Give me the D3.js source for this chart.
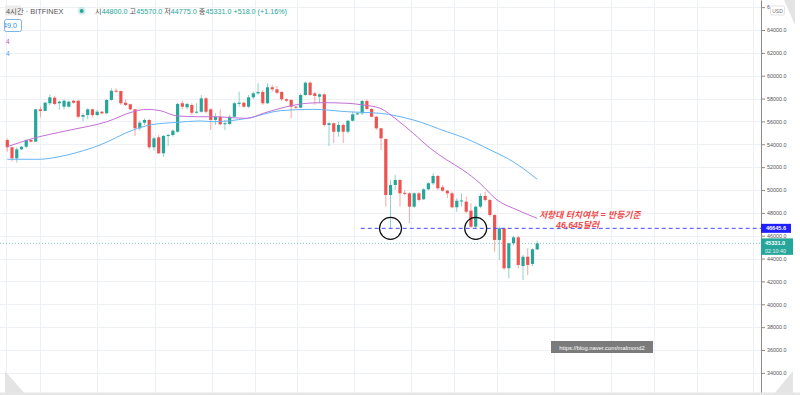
<!DOCTYPE html>
<html>
<head>
<meta charset="utf-8">
<script src="https://cdn.jsdelivr.net/npm/d3@7"></script>
<style>
body{margin:0;background:#fff;}
svg{display:block;font-family:"Liberation Sans","Noto Sans CJK KR",Arial,sans-serif;}
</style>
</head>
<body>
<div id="container"></div>
<script>
// 4h BTC candles (BITFINEX), oldest first
const opens = [54375,53740,52770,53560,53790,54380,54230,57060,56920,57590,58080,57590,57290,57290,57810,57810,56410,56560,57060,56560,
56850,56710,57880,58690,58660,57640,57500,57060,55400,55890,56130,53740,54610,53210,54730,54810,55100,57590,57240,57440,
56760,56850,58020,57060,56130,56410,55750,55780,56410,57530,57640,57290,58110,58460,58580,57590,58990,58810,58580,57940,
57880,57290,57200,58310,59390,58460,58160,58370,55690,55840,55100,55690,55100,56060,56620,56710,57790,57090,56410,55400,
54460,49560,50440,50880,49750,49710,48540,49710,49190,50060,50590,51230,50240,49940,49710,48490,49030,48980,48190,46790,
48540,49480,49130,47810,45630,46650,43150,45340,45860,43350,44160,43530,44800]
const highs = [54520,53800,53740,53850,54440,54400,57100,57290,57730,58370,58230,57810,57940,57810,57880,57880,56710,57150,57100,57000,
56900,57950,58900,58900,58700,57940,57550,57100,56060,56270,56200,54670,54810,54810,54960,55310,57640,57810,57640,57590,
57590,58310,58160,57150,56710,57060,56130,56560,57730,58600,57700,58310,58600,59340,58750,59340,59190,59100,58650,58000,
57950,57350,58460,59480,59480,58600,58460,58460,55920,55900,55980,55840,56130,56850,56800,57880,57940,57150,56480,55450,
54520,50880,51310,50950,50000,49800,49800,49800,50150,50700,51460,51300,50440,50000,49850,49300,49710,49420,48830,48650,
49710,49850,49200,47900,46790,46700,45400,45980,45980,44310,44900,44900,45570]
const lows = [53350,52480,52390,53500,53650,54150,54200,56360,56900,57440,57440,57000,57060,57200,57560,56270,55980,56190,56360,56480,
56600,56650,57810,58500,57440,57350,56990,54730,55190,55690,53560,53440,53150,52910,53850,54670,55010,57060,57060,56560,
56710,56760,56710,55250,55690,55690,55250,55690,56360,57290,57200,57150,57940,58310,57440,57530,58600,58400,57810,57700,
56270,57100,57150,58230,58230,57440,57590,55540,53850,54110,54670,54110,54960,55980,56560,56560,57000,56360,55250,53500,
48540,46650,50000,48540,49560,47090,48420,49000,49130,49980,50440,49980,49850,49300,48400,48100,48540,47960,46650,46620,
48400,48980,47660,44600,43880,43000,42270,45160,43150,42130,42560,43350,44775]
const closes = [53740,52770,53560,53790,54380,54230,57060,56920,57640,58110,57530,57730,57810,57730,57640,56410,56560,57060,56560,56850,
56710,57880,58690,58600,57590,57440,57060,55400,55890,56130,53740,54520,53210,54730,54810,55190,57530,57290,57530,56760,
56850,58020,56850,56130,56410,55750,55840,56410,57590,57640,57290,58110,58460,58580,57590,58990,58810,58510,57940,57810,
57290,57200,58310,59390,58310,58230,58370,55690,55840,55100,55690,55100,56060,56620,56710,57790,57090,56410,55400,54520,
49560,50440,50880,49710,49710,48540,49710,49130,50060,50590,51230,50150,49940,49710,48490,49060,49080,48100,46790,48540,
49480,49130,47810,45630,46650,43150,45340,45860,43440,44160,43440,44813,45331]

// moving averages: [candle index, price]
const maFast = [[0,53790],[5.5,54520],[12.6,55190],[21.1,55980],[26.6,56850],[29.5,57060],[32.3,56940],[35.9,56480],[40.7,56410],
[43.5,56410],[50.7,56270],[54.1,56710],[59.1,57290],[63.4,57590],[66.7,57640],[71.8,57590],[75.2,57440],[78.8,57150],[82.4,56130],
[85.8,54960],[89.4,53650],[92.9,52630],[96.3,51750],[99.9,50590],[103.5,49130],[107.8,48250],[112,47520]]
const maSlow = [[0,52690],[6.9,52690],[9,52770],[12.6,53060],[19.6,53940],[26.6,55250],[30.2,55690],[35.9,55920],[40.7,56040],
[43.5,55980],[50.7,56270],[57.7,56940],[64.6,57060],[71.8,56850],[78.8,56710],[85.8,56130],[92.9,55100],[96.3,54610],[102.1,53500],
[107,52450],[112,50940]]

const priceTicks = d3.range(34000, 66001, 2000)
const timeGrid = [-0.3,6.9,19,31.2,43.3,52.4,61.2,73.3,85.4,94.4,103.5,115.6,127.6,136.7,145.8,157.6]

const resistance = 46645.6
const touchIdx = [81, 99]
const noteLines = ["저항대 터치여부 = 반등기준", "46,645달러"]
const legendLabels = ["시","고","저","종"]
const countdown = "02:10:40"
const watermark = "https://blog.naver.com/malmond2"

const width = 800
const height = 395
const axisX = 761
const up = "#26a69a"
const down = "#ef5350"

const x = d3.scaleLinear().domain([-1.54, 159.3]).range([0, axisX])
const y = d3.scaleLinear().domain([32062.5, 66625]).range([height, 0])

const svg = d3.select("#container").append("svg")
              .attr("width",width)
              .attr("height",height)

/* grid */
svg.append("g")
   .selectAll("line")
   .data(priceTicks)
   .enter()
   .append("line")
   .attr("x1",0).attr("x2",axisX)
   .attr("y1",d=>Math.round(y(d))+0.5).attr("y2",d=>Math.round(y(d))+0.5)
   .attr("stroke","#edf1f5")

svg.append("g")
   .selectAll("line")
   .data(timeGrid)
   .enter()
   .append("line")
   .attr("x1",d=>Math.round(x(d))+0.5).attr("x2",d=>Math.round(x(d))+0.5)
   .attr("y1",0).attr("y2",height)
   .attr("stroke","#edf1f5")

/* current price line */
const last = closes.length-1
svg.append("line")
   .attr("x1",0).attr("x2",axisX)
   .attr("y1",y(closes[last])).attr("y2",y(closes[last]))
   .attr("stroke",up).attr("stroke-opacity",0.55)
   .attr("stroke-dasharray","1,2")

/* candles */
const candles = opens.map((o,i)=>({i:i,o:o,h:highs[i],l:lows[i],c:closes[i]}))
const bodyW = 3.2

const cg = svg.append("g")
cg.selectAll("line")
  .data(candles)
  .enter()
  .append("line")
  .attr("x1",d=>x(d.i)).attr("x2",d=>x(d.i))
  .attr("y1",d=>y(d.h)).attr("y2",d=>y(d.l))
  .attr("stroke",d=>d.c>=d.o?up:down)
  .attr("stroke-opacity",0.5)
  .attr("stroke-width",1)

cg.selectAll("rect")
  .data(candles)
  .enter()
  .append("rect")
  .attr("x",d=>x(d.i)-bodyW/2)
  .attr("width",bodyW)
  .attr("y",d=>y(Math.max(d.o,d.c)))
  .attr("height",d=>Math.max(1,Math.abs(y(d.o)-y(d.c))))
  .attr("fill",d=>d.c>=d.o?up:down)

/* moving averages */
const maLine = d3.line().x(d=>x(d[0])).y(d=>y(d[1])).curve(d3.curveMonotoneX)
svg.append("path").attr("d",maLine(maSlow)).attr("fill","none").attr("stroke","#64b5f6").attr("stroke-width",1)
svg.append("path").attr("d",maLine(maFast)).attr("fill","none").attr("stroke","#c36fd6").attr("stroke-width",1)

/* resistance line + touches */
svg.append("line")
   .attr("x1",x(74.7)).attr("x2",axisX)
   .attr("y1",y(resistance)).attr("y2",y(resistance))
   .attr("stroke","#4646ff").attr("stroke-width",1)
   .attr("stroke-dasharray","4,3")

svg.append("g")
   .selectAll("circle")
   .data(touchIdx)
   .enter()
   .append("circle")
   .attr("cx",d=>x(d)).attr("cy",y(resistance))
   .attr("r",11)
   .attr("fill","none").attr("stroke","#111").attr("stroke-width",1.2)

svg.append("g")
   .selectAll("text")
   .data(noteLines)
   .enter()
   .append("text")
   .attr("x",(d,i)=>i==0?539:556)
   .attr("y",(d,i)=>i==0?218:227.5)
   .attr("fill","#f04a4a")
   .attr("font-size","8.8px")
   .attr("font-style","italic")
   .attr("font-weight","bold")
   .text(d=>d)

/* watermark */
svg.append("rect").attr("x",551).attr("y",341).attr("width",102).attr("height",12).attr("fill","#7b7b7b")
svg.append("text").attr("x",602).attr("y",349.5).attr("text-anchor","middle")
   .attr("fill","#fff").attr("font-size","5.8px").text(watermark)

/* price axis */
const axis = svg.append("g")
   .attr("transform",`translate(${axisX},0)`)
   .call(d3.axisRight(y).tickValues(priceTicks).tickSize(4).tickSizeOuter(0).tickPadding(2)
         .tickFormat(d=>d==66000?"6":d.toFixed(1)))   // top label is hidden behind the currency badge
axis.select(".domain").attr("stroke","#8a8a8a")
axis.selectAll(".tick line").attr("stroke","#8a8a8a")
axis.selectAll(".tick text").attr("fill","#555").attr("font-size","5.4px").attr("font-family","Liberation Sans")

/* axis labels */
svg.append("rect").attr("x",axisX).attr("y",y(resistance)-4.5).attr("width",30).attr("height",9).attr("fill","#1f1fff")
svg.append("text").attr("x",axisX+15).attr("y",y(resistance)+2).attr("text-anchor","middle")
   .attr("fill","#fff").attr("font-size","5.6px").attr("font-weight","bold").text(resistance.toFixed(1))

svg.append("rect").attr("x",axisX).attr("y",y(closes[last])-5).attr("width",32).attr("height",16.5).attr("fill",up)
svg.append("text").attr("x",axisX+4).attr("y",y(closes[last])+2)
   .attr("fill","#fff").attr("font-size","5.6px").attr("font-weight","bold").text(closes[last].toFixed(1))
svg.append("text").attr("x",axisX+4).attr("y",y(closes[last])+9.3)
   .attr("fill","#e8f6f4").attr("font-size","5.4px").text(countdown)

/* corners */
svg.append("rect").attr("x",770.5).attr("y",6).attr("width",14).attr("height",9).attr("rx",1.5)
   .attr("fill","#fff").attr("stroke","#d0d0d0").attr("stroke-width",0.6)
svg.append("text").attr("x",777.5).attr("y",12.6).attr("text-anchor","middle").attr("fill","#777").attr("font-size","5px").text("USD")
svg.append("path").attr("d","M784,0L795,0L795,25Z").attr("fill","#e4e4e4")
svg.append("path").attr("d","M5,371L5,395L26,395Z").attr("fill","#e4e4e4")
svg.append("path").attr("d","M793,371L793,395L773,395Z").attr("fill","#e4e4e4")
svg.append("rect").attr("x",0).attr("y",392.5).attr("width",width).attr("height",2.5).attr("fill","#e6e6e6")

/* top-left legend */
svg.append("rect").attr("x",5).attr("y",5.5).attr("width",16).attr("height",10).attr("fill","#ececec")
const leg = svg.append("text").attr("x",6).attr("y",13.7).attr("font-size","7.4px").attr("fill","#555")
leg.text("4시간 · BITFINEX")
svg.append("circle").attr("cx",81.7).attr("cy",11).attr("r",4).attr("fill",up).attr("fill-opacity",0.2)
svg.append("circle").attr("cx",81.7).attr("cy",11).attr("r",2).attr("fill",up)

const ohlc = [opens[last],highs[last],lows[last],closes[last]]
const change = closes[last]-closes[last-1]
const pct = change/closes[last-1]*100
const row = svg.append("text").attr("x",95).attr("y",13.7).attr("font-size","7.2px")
legendLabels.forEach((lab,i)=>{
    row.append("tspan").attr("fill","#555").text((i?" ":"")+lab)
    row.append("tspan").attr("fill",up).text(ohlc[i].toFixed(1))
})
row.append("tspan").attr("fill",up).text(` +${change.toFixed(1)} (+${pct.toFixed(2)}%)`)

svg.append("clipPath").attr("id","boxclip").append("rect").attr("x",5).attr("y",18).attr("width",17).attr("height",14)
svg.append("rect").attr("x",4.5).attr("y",19.5).attr("width",17).attr("height",12).attr("rx",2)
   .attr("fill","#fff").attr("stroke","#5aa0e6").attr("stroke-width",0.8)
svg.append("text").attr("x",3).attr("y",28.3).attr("clip-path","url(#boxclip)")
   .attr("fill","#2f8fe0").attr("font-size","7.2px").text("49.0")
svg.append("text").attr("x",6).attr("y",43.6).attr("fill","#b45cc9").attr("font-size","6.5px").text("4")
svg.append("text").attr("x",6).attr("y",55.6).attr("fill","#42a5f5").attr("font-size","6.5px").text("4")
</script>
</body>
</html>
